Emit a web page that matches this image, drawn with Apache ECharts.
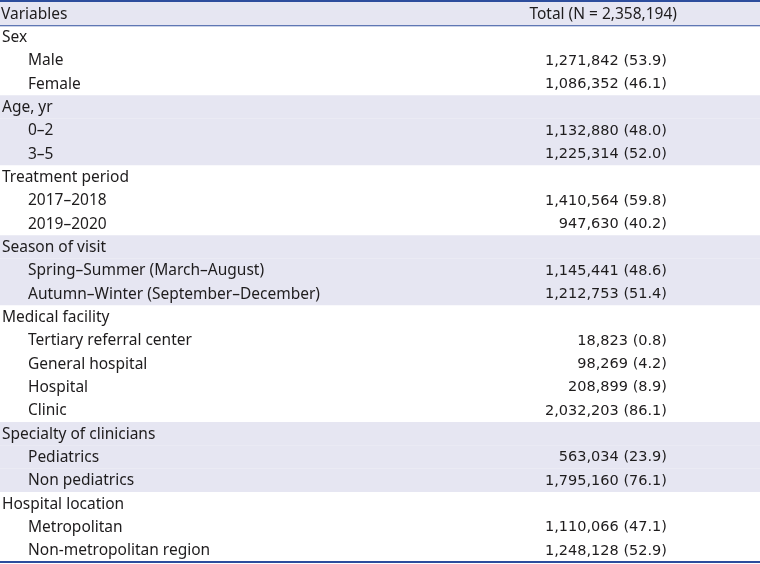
<!DOCTYPE html>
<html>
<head>
<meta charset="utf-8">
<script src="https://cdn.jsdelivr.net/npm/echarts@6/dist/echarts.min.js"></script>
<style>html,body{margin:0;padding:0;background:#fff}#chart{width:760px;height:564px}</style>
</head>
<body>
<div id="chart"></div>
<script>
const headerLeft = 'Variables';
const totalN = 2358194;
const rowLabels = ['Sex','Male','Female','Age, yr','0–2','3–5','Treatment period','2017–2018','2019–2020','Season of visit','Spring–Summer (March–August)','Autumn–Winter (September–December)','Medical facility','Tertiary referral center','General hospital','Hospital','Clinic','Specialty of clinicians','Pediatrics','Non pediatrics','Hospital location','Metropolitan','Non-metropolitan region'];
const rowLevels = [0,1,1,0,1,1,0,1,1,0,1,1,0,1,1,1,1,0,1,1,0,1,1];
const counts = [null,1271842,1086352,null,1132880,1225314,null,1410564,947630,null,1145441,1212753,null,18823,98269,208899,2032203,null,563034,1795160,null,1110066,1248128];
const percents = [null,53.9,46.1,null,48.0,52.0,null,59.8,40.2,null,48.6,51.4,null,0.8,4.2,8.9,86.1,null,23.9,76.1,null,47.1,52.9];

const fmt = n => n.toLocaleString('en-US');
const headerRight = 'Total (N = ' + fmt(totalN) + ')';

const rows = [];
rows.push({left: headerLeft, right: headerRight, level: -1, shade: true});
let g = -1;
rowLabels.forEach((lab, i) => {
  if (rowLevels[i] === 0) g++;
  rows.push({
    left: lab,
    right: counts[i] == null ? '' : fmt(counts[i]) + ' (' + percents[i].toFixed(1) + ')',
    level: rowLevels[i],
    shade: g % 2 === 1
  });
});
const nRows = rows.length;

const BAND = '#e6e6f2';
const LINE = '#2d4d9d';
const TEXT = '#1e1c1d';
const FONT = '15.5px "Noto Sans"';
const NUMFONT = '14.5px "DejaVu Sans"';

const chart = echarts.init(document.getElementById('chart'), null, {renderer: 'canvas'});
chart.setOption({
  animation: false,
  grid: {left: 0, right: 0, top: 2, bottom: 2},
  xAxis: {type: 'value', min: 0, max: 760, show: false},
  yAxis: {type: 'value', min: 0, max: nRows, inverse: true, show: false},
  series: [{
    type: 'custom',
    clip: false,
    data: rows.map((r, i) => [i]),
    renderItem: function (params, api) {
      const i = api.value(0);
      const r = rows[i];
      const p0 = api.coord([0, i]);
      const p1 = api.coord([760, i + 1]);
      const x0 = p0[0], y0 = p0[1], x1 = p1[0], y1 = p1[1];
      const cy = (y0 + y1) / 2 + 0.5;
      const ch = [];
      if (r.shade) {
        ch.push({type: 'rect', shape: {x: x0, y: y0, width: x1 - x0, height: y1 - y0}, style: {fill: BAND}});
      }
      const indent = r.level === 1 ? 28 : (r.level === 0 ? 2 : 1);
      ch.push({type: 'text', style: {x: x0 + indent, y: cy, text: r.left, fill: TEXT, font: FONT, align: 'left', verticalAlign: 'middle'}});
      if (r.right) {
        const hdr = r.level === -1;
        ch.push({type: 'text', style: {x: hdr ? 677 : 667, y: cy, text: r.right, fill: TEXT, font: hdr ? FONT : NUMFONT, align: 'right', verticalAlign: 'middle'}});
      }
      if (i === 0) {
        ch.push({type: 'rect', shape: {x: x0, y: y0 - 2, width: x1 - x0, height: 2}, style: {fill: LINE}});
        ch.push({type: 'rect', shape: {x: x0, y: y1, width: x1 - x0, height: 1}, style: {fill: LINE}});
      }
      if (i === nRows - 1) {
        ch.push({type: 'rect', shape: {x: x0, y: y1 - 1, width: x1 - x0, height: 2}, style: {fill: LINE}});
      }
      return {type: 'group', children: ch};
    }
  }]
});
</script>
</body>
</html>
